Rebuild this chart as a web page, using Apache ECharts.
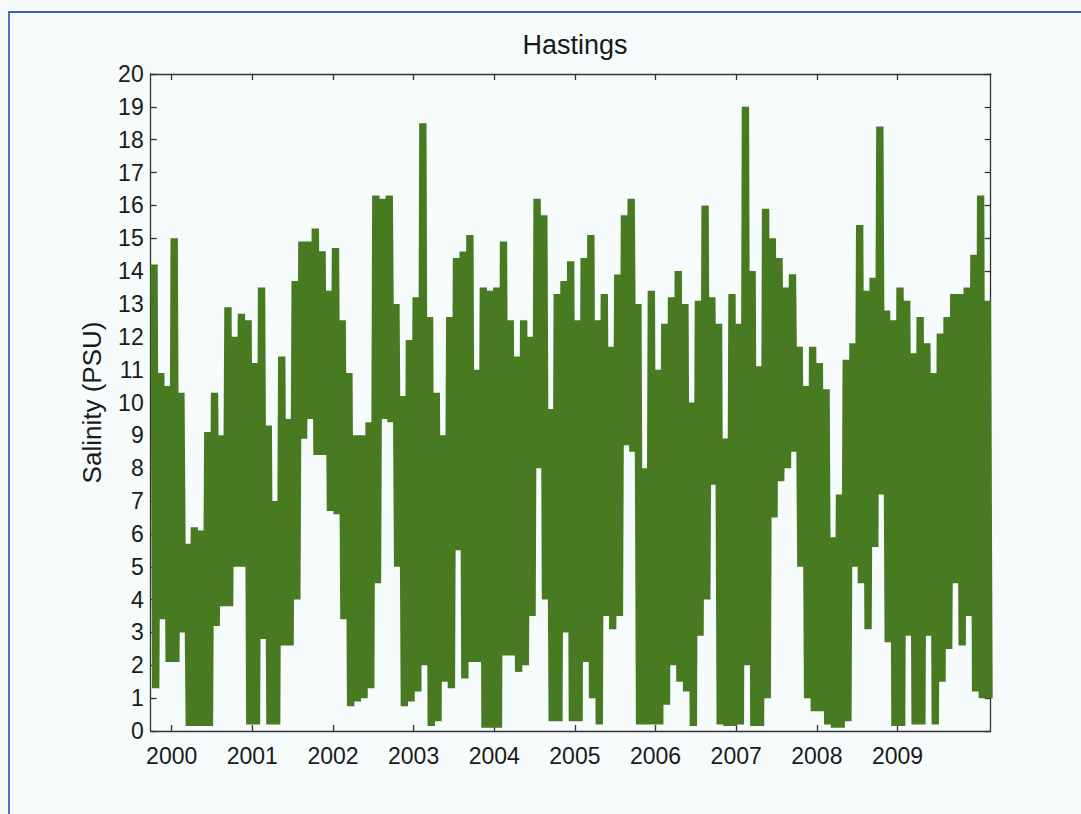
<!DOCTYPE html>
<html><head><meta charset="utf-8">
<script src="https://cdn.jsdelivr.net/npm/echarts@6/dist/echarts.min.js"></script>
<style>html,body{margin:0;padding:0;background:#f6fbfb;}#c{width:1081px;height:814px;}</style>
</head><body><div id="c"></div>
<script>
// Monthly salinity envelope (max / min PSU), Oct 1999 .. Feb 2010
const hi1999 = [14.2, 10.9, 10.5];
const lo1999 = [1.3, 3.4, 2.1];
const hi2000 = [15.0, 10.3, 5.7, 6.2, 6.1, 9.1, 10.3, 9.0, 12.9, 12.0, 12.7, 12.5];
const lo2000 = [2.1, 3.0, 0.15, 0.15, 0.15, 0.15, 3.2, 3.8, 3.8, 5.0, 5.0, 0.2];
const hi2001 = [11.2, 13.5, 9.3, 7.0, 11.4, 9.5, 13.7, 14.9, 14.9, 15.3, 14.6, 13.4];
const lo2001 = [0.2, 2.8, 0.2, 0.2, 2.6, 2.6, 4.0, 8.9, 9.5, 8.4, 8.4, 6.7];
const hi2002 = [14.7, 12.5, 10.9, 9.0, 9.0, 9.4, 16.3, 16.2, 16.3, 13.0, 10.2, 11.9];
const lo2002 = [6.6, 3.4, 0.75, 0.9, 1.0, 1.3, 4.5, 9.5, 9.4, 5.0, 0.75, 0.9];
const hi2003 = [13.2, 18.5, 12.6, 10.3, 9.0, 12.6, 14.4, 14.6, 15.1, 11.0, 13.5, 13.4];
const lo2003 = [1.2, 2.0, 0.15, 0.3, 1.5, 1.3, 5.5, 1.6, 2.1, 2.1, 0.1, 0.1];
const hi2004 = [13.5, 14.9, 12.5, 11.4, 12.5, 12.0, 16.2, 15.7, 9.8, 13.3, 13.7, 14.3];
const lo2004 = [0.1, 2.3, 2.3, 1.8, 2.0, 3.5, 8.0, 4.0, 0.3, 0.3, 3.0, 0.3];
const hi2005 = [12.5, 14.4, 15.1, 12.5, 13.3, 11.7, 13.9, 15.7, 16.2, 13.0, 8.0, 13.4];
const lo2005 = [0.3, 2.1, 1.0, 0.2, 3.5, 3.1, 3.5, 8.7, 8.5, 0.2, 0.2, 0.2];
const hi2006 = [11.0, 12.4, 13.2, 14.0, 13.0, 10.0, 13.1, 16.0, 13.2, 12.4, 8.9, 13.3];
const lo2006 = [0.2, 0.8, 2.0, 1.5, 1.2, 0.15, 2.9, 4.0, 7.5, 0.2, 0.15, 0.15];
const hi2007 = [12.4, 19.0, 14.0, 11.1, 15.9, 15.0, 14.4, 13.5, 13.9, 11.7, 10.5, 11.7];
const lo2007 = [0.2, 2.0, 0.15, 0.15, 1.0, 6.5, 7.6, 8.0, 8.5, 5.0, 1.0, 0.6];
const hi2008 = [11.2, 10.4, 5.9, 7.2, 11.3, 11.8, 15.4, 13.4, 13.8, 18.4, 12.8, 12.5];
const lo2008 = [0.6, 0.2, 0.1, 0.1, 0.3, 5.0, 4.5, 3.1, 5.6, 7.2, 2.7, 0.15];
const hi2009 = [13.5, 13.1, 11.5, 12.6, 11.8, 10.9, 12.1, 12.6, 13.3, 13.3, 13.5, 14.5];
const lo2009 = [0.15, 2.9, 0.2, 0.2, 2.9, 0.2, 1.5, 2.5, 4.5, 2.6, 3.5, 1.2];
const hi2010 = [16.3, 13.1];
const lo2010 = [1.0, 1.0];

const yearTicks = [2000, 2001, 2002, 2003, 2004, 2005, 2006, 2007, 2008, 2009];
const firstMonth = 1999 + 9 / 12; // Oct 1999

const his = [].concat(hi1999, hi2000, hi2001, hi2002, hi2003, hi2004, hi2005, hi2006, hi2007, hi2008, hi2009, hi2010);
const los = [].concat(lo1999, lo2000, lo2001, lo2002, lo2003, lo2004, lo2005, lo2006, lo2007, lo2008, lo2009, lo2010);

// thick trace oscillating between each month's max and min (tidal swings)
const trace = [];
for (let i = 0; i < his.length; i++) {
  const t = firstMonth + i / 12;
  trace.push([t + 0.5 / 48, his[i]], [t + 1.5 / 48, los[i]], [t + 2.5 / 48, his[i]], [t + 3.5 / 48, los[i]]);
}

const FONT = "'Liberation Sans', Arial, Helvetica, sans-serif";
const AX = '#333333';
const chart = echarts.init(document.getElementById('c'), null, {renderer: 'svg'});
const xMin = 1999.74, xMax = 2010.156;
const axisCommon = {
  axisLine: {show: true, onZero: false, lineStyle: {color: AX, width: 1.3}},
  splitLine: {show: false}
};
chart.setOption({
  animation: false,
  backgroundColor: '#f6fbfb',
  title: {
    text: 'Hastings', left: 570, top: 26, textAlign: 'center',
    textStyle: {fontFamily: FONT, fontSize: 27, fontWeight: 'normal', color: '#1a1a1a'}
  },
  grid: {left: 150.7, right: 90.3, top: 74, bottom: 83, containLabel: false},
  graphic: [{
    type: 'rect', shape: {x: 9, y: 12, width: 1100, height: 850},
    style: {fill: 'none', stroke: '#3e63b5', lineWidth: 1.8}, silent: true, z: 100
  }],
  xAxis: [Object.assign({
    type: 'value', min: xMin, max: xMax, position: 'bottom',
    axisTick: {show: true, inside: true, length: 6, customValues: yearTicks, lineStyle: {color: AX, width: 1.3}},
    axisLabel: {customValues: yearTicks, formatter: v => String(Math.round(v)), fontFamily: FONT, fontSize: 23, color: '#1a1a1a', margin: 13}
  }, axisCommon), Object.assign({
    type: 'value', min: xMin, max: xMax, position: 'top',
    axisTick: {show: true, inside: true, length: 6, customValues: yearTicks, lineStyle: {color: AX, width: 1.3}},
    axisLabel: {show: false}
  }, axisCommon)],
  yAxis: [Object.assign({
    type: 'value', min: 0, max: 20, interval: 1, position: 'left',
    name: 'Salinity (PSU)', nameLocation: 'middle', nameGap: 46,
    nameTextStyle: {fontFamily: FONT, fontSize: 26, color: '#1a1a1a'},
    axisTick: {show: true, inside: true, length: 6, lineStyle: {color: AX, width: 1.3}},
    axisLabel: {fontFamily: FONT, fontSize: 23, color: '#1a1a1a', margin: 7}
  }, axisCommon), Object.assign({
    type: 'value', min: 0, max: 20, interval: 1, position: 'right',
    axisTick: {show: true, inside: true, length: 6, lineStyle: {color: AX, width: 1.3}},
    axisLabel: {show: false}
  }, axisCommon)],
  series: [{
    type: 'line', xAxisIndex: 0, yAxisIndex: 0, data: trace,
    showSymbol: false, symbol: 'none', clip: true,
    lineStyle: {color: '#487a22', width: 4, join: 'miter'},
    z: 2
  }]
});
</script>
</body></html>
